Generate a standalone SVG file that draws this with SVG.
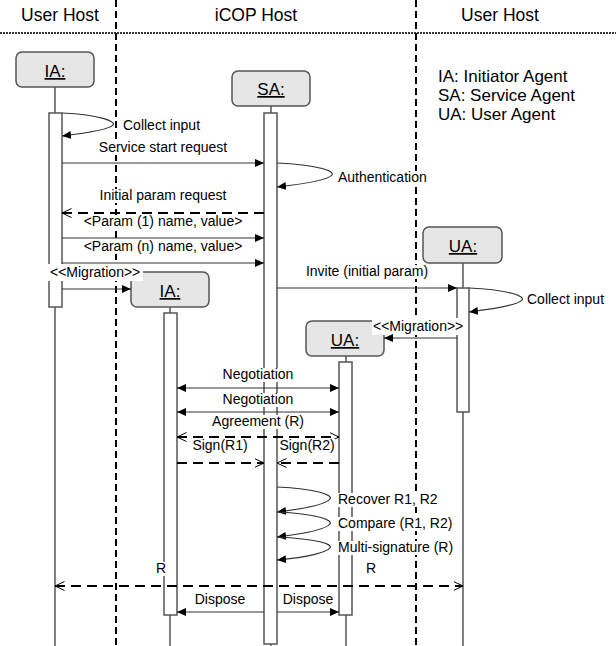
<svg xmlns="http://www.w3.org/2000/svg" width="616" height="646" viewBox="0 0 616 646">
<defs>
<style>
text{font-family:"Liberation Sans",Arial,sans-serif;fill:#000}
.hdr{font-size:17.5px}
.leg{font-size:17px}
.lbl{font-size:14px}
.nm{font-size:17px;text-decoration:underline;text-anchor:middle}
.box{fill:#e6e6e6;stroke:#555;stroke-width:1.5}
.life{stroke:#555;stroke-width:1.5;fill:none}
.bar{fill:#fff;stroke:#555;stroke-width:1.5}
.div{stroke:#000;stroke-width:2;stroke-dasharray:7 4;fill:none}
.msg{stroke:#333;stroke-width:1.2;fill:none}
.dmsg{stroke:#000;stroke-width:2;stroke-dasharray:10 6;fill:none}
.loop{stroke:#333;stroke-width:1.2;fill:none}
.bg{fill:#fff}
.mid{text-anchor:middle}
</style>
<marker id="fa" viewBox="0 0 9 8" refX="9" refY="4" markerWidth="9" markerHeight="8" markerUnits="userSpaceOnUse" orient="auto-start-reverse"><path d="M0,0 L9,4 L0,8 z" fill="#000"/></marker>
<marker id="oa" viewBox="0 0 10 10" refX="9.5" refY="5" markerWidth="10" markerHeight="10" markerUnits="userSpaceOnUse" orient="auto-start-reverse"><path d="M0,0.5 L9.5,5 L0,9.5" fill="none" stroke="#000" stroke-width="1"/></marker>
</defs>
<rect width="616" height="646" fill="#fff"/>
<g id="header">
<text class="hdr mid" x="60" y="21">User Host</text>
<text class="hdr mid" x="256" y="21">iCOP Host</text>
<text class="hdr mid" x="500" y="21">User Host</text>
<line x1="0" y1="33" x2="616" y2="33" stroke="#333" stroke-width="2" stroke-dasharray="2 1"/>
<line class="div" x1="116" y1="0" x2="116" y2="646"/>
<line class="div" x1="416" y1="0" x2="416" y2="646"/>
</g>
<g id="legend" class="leg">
<text x="438" y="82">IA: Initiator Agent</text>
<text x="438" y="101">SA: Service Agent</text>
<text x="438" y="120">UA: User Agent</text>
</g>
<g id="IA">
<line class="life" x1="55" y1="87" x2="55" y2="646"/>
<rect class="bar" x="49" y="113" width="13" height="194"/>
<rect class="box" x="16" y="52" width="78" height="35" rx="6"/>
<text class="nm" x="55" y="77">IA:</text>
</g>
<g id="SA">
<line class="life" x1="271" y1="106" x2="271" y2="646"/>
<rect class="bar" x="264" y="113" width="13" height="531"/>
<rect class="box" x="232" y="71" width="78" height="35" rx="6"/>
<text class="nm" x="271" y="95">SA:</text>
</g>
<g id="UA">
<line class="life" x1="463" y1="263" x2="463" y2="646"/>
<rect class="bar" x="457" y="288" width="12" height="124"/>
<rect class="box" x="423" y="227" width="79" height="36" rx="6"/>
<text class="nm" x="463" y="252">UA:</text>
</g>
<g id="IA2">
<line class="life" x1="170" y1="307" x2="170" y2="646"/>
<rect class="bar" x="164" y="313" width="13" height="302"/>
<rect class="box" x="131" y="272" width="78" height="35" rx="6"/>
<text class="nm" x="170" y="297">IA:</text>
</g>
<g id="UA2">
<line class="life" x1="346" y1="356" x2="346" y2="646"/>
<rect class="bar" x="339" y="362" width="13" height="253"/>
<rect class="box" x="306" y="321" width="78" height="35" rx="6"/>
<text class="nm" x="345" y="346">UA:</text>
</g>
<g id="connectors">
<path class="loop" d="M62,113 C103,115 116,122 113,125 C110,129 95,132 62,136" marker-end="url(#fa)"/>
<rect class="bg" x="122" y="119" width="79" height="14"/>
<text class="lbl" x="123" y="130">Collect input</text>
<rect class="bg" x="98" y="141" width="130" height="14"/>
<text class="lbl mid" x="163" y="152">Service start request</text>
<line class="msg" x1="62" y1="163" x2="264" y2="163" marker-end="url(#fa)"/>
<path class="loop" d="M277,163 C318,165 335,171 332,175 C329,179 312,183 277,187" marker-end="url(#fa)"/>
<rect class="bg" x="337" y="171" width="91" height="14"/>
<text class="lbl" x="338" y="182">Authentication</text>
<rect class="bg" x="99" y="189" width="128" height="14"/>
<text class="lbl mid" x="163" y="200">Initial param request</text>
<line class="dmsg" x1="264" y1="213" x2="62" y2="213" marker-end="url(#oa)"/>
<rect class="bg" x="83" y="215" width="160" height="14"/>
<text class="lbl mid" x="163" y="226">&lt;Param (1) name, value&gt;</text>
<line class="msg" x1="62" y1="238" x2="264" y2="238" marker-end="url(#fa)"/>
<rect class="bg" x="83" y="240" width="160" height="14"/>
<text class="lbl mid" x="163" y="251">&lt;Param (n) name, value&gt;</text>
<line class="msg" x1="62" y1="263" x2="264" y2="263" marker-end="url(#fa)"/>
<rect class="bg" x="48" y="264" width="95" height="17"/>
<text class="lbl" x="50" y="277">&lt;&lt;Migration&gt;&gt;</text>
<line class="msg" x1="62" y1="289" x2="131" y2="289" marker-end="url(#fa)"/>
<rect class="bg" x="305" y="265" width="124" height="14"/>
<text class="lbl mid" x="367" y="276">Invite (initial param)</text>
<line class="msg" x1="277" y1="288" x2="457" y2="288" marker-end="url(#fa)"/>
<path class="loop" d="M469,288 C510,290 525,296 522,300 C519,304 502,308 469,312" marker-end="url(#fa)"/>
<rect class="bg" x="526" y="293" width="79" height="14"/>
<text class="lbl" x="527" y="304">Collect input</text>
<rect class="bg" x="372" y="318" width="96" height="17"/>
<text class="lbl" x="373" y="331">&lt;&lt;Migration&gt;&gt;</text>
<line class="msg" x1="457" y1="338" x2="384" y2="338" marker-end="url(#fa)"/>
<rect class="bg" x="222" y="368" width="72" height="14"/>
<text class="lbl mid" x="258" y="379">Negotiation</text>
<line class="msg" x1="177" y1="388" x2="339" y2="388" marker-start="url(#fa)" marker-end="url(#fa)"/>
<rect class="bg" x="222" y="393" width="72" height="14"/>
<text class="lbl mid" x="258" y="404">Negotiation</text>
<line class="msg" x1="177" y1="412" x2="339" y2="412" marker-start="url(#fa)" marker-end="url(#fa)"/>
<rect class="bg" x="211" y="415" width="94" height="14"/>
<text class="lbl mid" x="258" y="426">Agreement (R)</text>
<line class="dmsg" x1="177" y1="437" x2="339" y2="437" marker-start="url(#oa)" marker-end="url(#oa)"/>
<rect class="bg" x="192" y="439" width="56" height="14"/>
<text class="lbl mid" x="220" y="450">Sign(R1)</text>
<line class="dmsg" x1="177" y1="463" x2="264" y2="463" marker-end="url(#oa)"/>
<rect class="bg" x="279" y="439" width="56" height="14"/>
<text class="lbl mid" x="307" y="450">Sign(R2)</text>
<line class="dmsg" x1="339" y1="463" x2="277" y2="463" marker-end="url(#oa)"/>
<path class="loop" d="M277,487 C318,489 333,495 330,499 C327,503 310,508 277,512" marker-end="url(#fa)"/>
<rect class="bg" x="337" y="493" width="101" height="14"/>
<text class="lbl" x="338" y="504">Recover R1, R2</text>
<path class="loop" d="M277,512 C318,514 333,520 330,524 C327,528 310,533 277,537" marker-end="url(#fa)"/>
<rect class="bg" x="337" y="517" width="116" height="14"/>
<text class="lbl" x="338" y="528">Compare (R1, R2)</text>
<path class="loop" d="M277,537 C318,539 333,544 330,548 C327,552 310,557 277,560" marker-end="url(#fa)"/>
<rect class="bg" x="337" y="541" width="117" height="14"/>
<text class="lbl" x="338" y="552">Multi-signature (R)</text>
<rect class="bg" x="155" y="562" width="12" height="14"/>
<text class="lbl" x="156" y="573">R</text>
<rect class="bg" x="365" y="562" width="12" height="14"/>
<text class="lbl" x="366" y="573">R</text>
<line class="dmsg" x1="55" y1="586" x2="463" y2="586" marker-start="url(#oa)" marker-end="url(#oa)"/>
<rect class="bg" x="194" y="593" width="52" height="14"/>
<text class="lbl mid" x="220" y="604">Dispose</text>
<line class="msg" x1="264" y1="612" x2="177" y2="612" marker-end="url(#fa)"/>
<rect class="bg" x="282" y="593" width="52" height="14"/>
<text class="lbl mid" x="308" y="604">Dispose</text>
<line class="msg" x1="277" y1="612" x2="339" y2="612" marker-end="url(#fa)"/>
</g>
</svg>
